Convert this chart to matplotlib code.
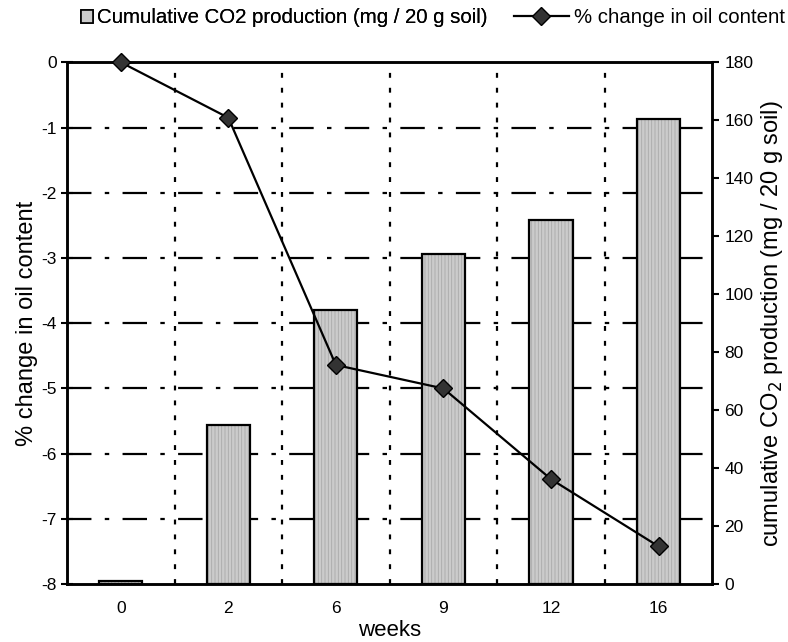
import numpy as np
import matplotlib
matplotlib.use("Agg")
import matplotlib.pyplot as plt
from matplotlib.patches import Patch
from matplotlib.lines import Line2D

plt.rcParams['font.family'] = ['Liberation Sans', 'DejaVu Sans']
plt.rcParams['hatch.linewidth'] = 0.6

# data
weeks = ['0', '2', '6', '9', '12', '16']
co2_cum = [1, 55, 94.5, 114, 125.5, 160.5]          # mg / 20 g soil (right axis)
oil_change = [0, -0.85, -4.64, -5.0, -6.39, -7.42]   # % change (left axis)
oil_ticks = [0, -1, -2, -3, -4, -5, -6, -7, -8]
co2_ticks = [0, 20, 40, 60, 80, 100, 120, 140, 160, 180]

x = np.arange(len(weeks))

fig, ax_co2 = plt.subplots(figsize=(7.88, 6.42), dpi=100)
fig.subplots_adjust(left=0.085, right=0.904, top=0.903, bottom=0.09)
ax_oil = ax_co2.twinx()

# swap sides: bars on the bottom axes with ticks on the right
ax_co2.yaxis.tick_right()
ax_co2.yaxis.set_label_position('right')
ax_oil.yaxis.tick_left()
ax_oil.yaxis.set_label_position('left')

ax_co2.set_xlim(-0.5, len(weeks) - 0.5)
ax_co2.set_ylim(0, 180)
ax_oil.set_ylim(-8, 0)

# grid behind bars
for v in oil_ticks[1:-1]:
    ax_co2.plot([-0.5, len(weeks) - 0.5], [v, v], transform=ax_oil.transData,
                color='black', lw=1.6, dashes=(11, 6, 2, 6), zorder=1)
for xv in x[:-1] + 0.5:
    ax_co2.axvline(xv, color='black', lw=1.6, dashes=(2.2, 4.5), zorder=1)

# bars: hatched fill then black outline
ax_co2.bar(x, co2_cum, width=0.4, color='#cbcbcb', edgecolor='#a9a9a9',
           hatch='|||||', linewidth=0, zorder=2)
ax_co2.bar(x, co2_cum, width=0.4, fill=False, edgecolor='black',
           linewidth=1.6, zorder=3)

ax_oil.plot(x, oil_change, color='black', lw=1.6, marker='D', markersize=9.5,
            markerfacecolor='#333333', markeredgecolor='black', zorder=5,
            clip_on=False)
ax_oil.patch.set_visible(False)

ax_co2.set_xticks(x)
ax_co2.set_xticklabels(weeks)
ax_co2.set_yticks(co2_ticks)
ax_oil.set_yticks(oil_ticks)
ax_oil.set_yticklabels([str(t) for t in oil_ticks])

for a in (ax_co2, ax_oil):
    a.tick_params(labelsize=12.5, width=1.5, length=5, color='black')
    for s in a.spines.values():
        s.set_linewidth(1.8)
ax_co2.tick_params(axis='x', length=0, pad=12)
ax_oil.tick_params(axis='y', direction='inout', length=8)
ax_co2.tick_params(axis='y', direction='out', length=5)

ax_oil.set_ylabel('% change in oil content', fontsize=17, labelpad=2)
ax_co2.set_ylabel('cumulative CO$_2$ production (mg / 20 g soil)', fontsize=17,
                  labelpad=4)
ax_co2.set_xlabel('weeks', fontsize=16, labelpad=3)

# legend: two pieces so the patch and the line get their own handle widths
leg1 = fig.legend([Patch(facecolor='#cbcbcb', edgecolor='black', linewidth=1.2)],
                  ['Cumulative CO2 production (mg / 20 g soil)'],
                  loc='center left', bbox_to_anchor=(0.103, 0.972),
                  frameon=False, fontsize=14.7, handlelength=0.6,
                  handleheight=0.6, handletextpad=0.2, borderpad=0,
                  borderaxespad=0)
leg2 = fig.legend([Line2D([], [], color='black', lw=1.6, marker='D',
                          markersize=9, markerfacecolor='#333333',
                          markeredgecolor='black')],
                  ['% change in oil content'],
                  loc='center left', bbox_to_anchor=(0.652, 0.972),
                  frameon=False, fontsize=14.7, handlelength=2.7,
                  handletextpad=0.25, borderpad=0, borderaxespad=0)
fig.add_artist(leg1)

plt.savefig('out.png', dpi=100)
